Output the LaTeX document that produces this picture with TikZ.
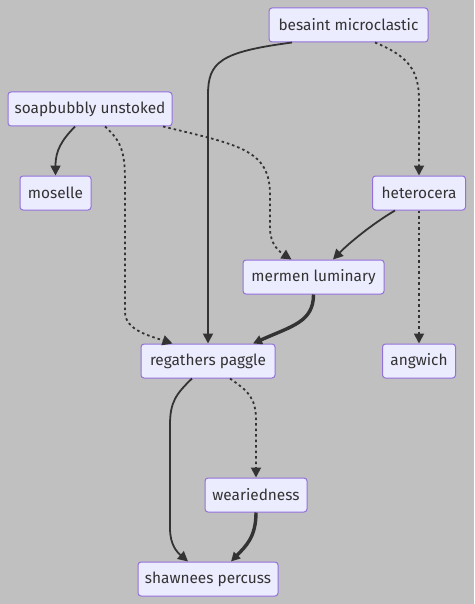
\documentclass[tikz,border=0pt]{standalone}
\usepackage{fontspec}
\setmainfont{Fira Sans}
\usetikzlibrary{arrows.meta,calc}
\definecolor{bg}{HTML}{C0C0C0}
\definecolor{nfill}{HTML}{ECECFF}
\definecolor{nborder}{HTML}{9370DB}
\definecolor{ink}{HTML}{333333}
\tikzset{
  box/.style={draw=nborder, fill=nfill, line width=1pt, rounded corners=3pt,
    minimum height=34pt, inner sep=0pt, text=ink, font=\fontsize{15.4}{18}\selectfont},
  link/.style={draw=ink, line width=1.8pt, -{Triangle[length=10pt,width=10pt]}},
  dlink/.style={link, dash pattern=on 2.5pt off 3pt},
  tlink/.style={link, line width=3.4pt, -{Triangle[length=9pt,width=9pt]}},
}
\begin{document}
\begin{tikzpicture}[x=1pt,y=-1pt]
\useasboundingbox[fill=bg] (0,0) rectangle (474,604);
\node[box, minimum width=159pt] (bes) at (348.5,25) {besaint microclastic};
\node[box, minimum width=164pt] (soa) at (90,109) {soapbubbly unstoked};
\node[box, minimum width=71pt] (mos) at (55.5,193) {moselle};
\node[box, minimum width=93pt] (het) at (419,193) {heterocera};
\node[box, minimum width=141pt] (mer) at (313.5,277) {mermen luminary};
\node[box, minimum width=134pt] (reg) at (208,361) {regathers paggle};
\node[box, minimum width=73pt] (ang) at (419,361) {angwich};
\node[box, minimum width=102pt] (wea) at (256,495) {weariedness};
\node[box, minimum width=140pt] (sha) at (208,579) {shawnees percuss};

% besaint -> regathers
\draw[link] ($(bes.south)+(-56.5,0)$) .. controls (220,52) and (208,62) .. (208,95) -- (reg.north);
% besaint -> heterocera
\draw[dlink] ($(bes.south)+(26.5,0)$) .. controls (408,56) and (419,70) .. (419,100) -- (het.north);
% soapbubbly -> moselle
\draw[link] ($(soa.south)+(-15,0)$) .. controls (62,140) and (55.5,150) .. (mos.north);
% soapbubbly -> regathers
\draw[dlink] ($(soa.south)+(15,0)$) .. controls (120,140) and (125,150) .. (125,180) -- (125,312)
  .. controls (125,330) and (150,336) .. ($(reg.north west)+(32,0)$);
% soapbubbly -> mermen
\draw[dlink] ($(soa.south)+(73,0)$) .. controls (240,145) and (270,150) .. (270,195) -- (270,228)
  .. controls (270,245) and (280,252) .. ($(mer.north west)+(49,0)$);
% heterocera -> mermen
\draw[link] ($(het.south)+(-24,0)$) .. controls (372,224) and (348,244) .. ($(mer.north)+(19.5,0)$);
% heterocera -> angwich
\draw[dlink] (het.south) -- (ang.north);
% mermen -> regathers
\draw[tlink] (mer.south) .. controls (313.5,322) and (292,326) .. ($(reg.north)+(45,0)$);
% regathers -> shawnees
\draw[link] ($(reg.south)+(-16,0)$) .. controls (176,394) and (170,402) .. (170,425) -- (170,528)
  .. controls (170,545) and (177,552) .. ($(sha.north)+(-20,0)$);
% regathers -> weariedness
\draw[dlink] ($(reg.south)+(22,0)$) .. controls (246,390) and (256,396) .. (256,420) -- (wea.north);
% weariedness -> shawnees
\draw[tlink] (wea.south) .. controls (256,537) and (246,546) .. ($(sha.north)+(23,0)$);
\end{tikzpicture}
\end{document}
